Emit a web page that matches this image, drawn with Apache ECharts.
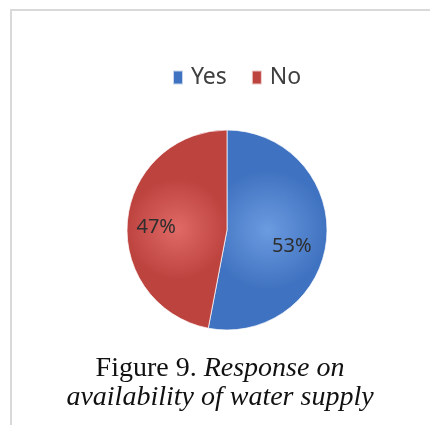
<!DOCTYPE html>
<html>
<head>
<meta charset="utf-8">
<script src="https://cdn.jsdelivr.net/npm/echarts@6/dist/echarts.min.js"></script>
<style>
  html, body {margin: 0; padding: 0; background: #fff;}
  #main {width: 430px; height: 425px;}
</style>
</head>
<body>
<div id="main"></div>
<script>
const categories = ['Yes', 'No'];
const values = [53, 47];
const colors = [
    ['#6b9be0', '#3f72c0'],
    ['#e06a66', '#bd433f']
];
const labelOffsets = [[12, 11], [-18, 2]];

const chart = echarts.init(document.getElementById('main'));

const data = categories.map((name, i) => ({
    name: name,
    value: values[i],
    itemStyle: {
        color: new echarts.graphic.RadialGradient(0.5, 0.5, 0.5, [
            {offset: 0, color: colors[i][0]},
            {offset: 1, color: colors[i][1]}
        ])
    },
    label: {offset: labelOffsets[i]}
}));

const serif = 'Liberation Serif';

chart.setOption({
    animation: false,
    backgroundColor: '#fff',
    legend: {
        top: 61,
        left: 167,
        itemWidth: 10,
        itemHeight: 14,
        itemGap: 24,
        icon: 'rect',
        textStyle: {fontFamily: 'Noto Sans', fontSize: 23, color: '#404040', padding: [0, 0, 0, 3]},
        data: categories.map((c, i) => ({name: c, itemStyle: {color: colors[i][1]}}))
    },
    graphic: [{
        type: 'rect',
        shape: {x: 11, y: 10, width: 440, height: 440},
        style: {fill: 'none', stroke: '#d9d9d9', lineWidth: 2},
        silent: true
    }, {
        type: 'text',
        x: 220,
        y: 354,
        style: {
            text: '{n|Figure 9. }{i|Response on}\n{i|availability of water supply}',
            align: 'center',
            verticalAlign: 'top',
            rich: {
                n: {fontFamily: serif, fontSize: 28, fill: '#111', lineHeight: 29},
                i: {fontFamily: serif, fontStyle: 'italic', fontSize: 28, fill: '#111', lineHeight: 29}
            }
        },
        silent: true
    }],
    series: [{
        type: 'pie',
        center: [227, 230],
        radius: 100,
        startAngle: 90,
        clockwise: true,
        data: data,
        itemStyle: {borderColor: 'rgba(255,255,255,0.7)', borderWidth: 1},
        label: {
            position: 'inside',
            formatter: '{d}%',
            fontFamily: 'Noto Sans',
            fontSize: 20,
            color: '#2e2e2e'
        },
        labelLine: {show: false},
        emphasis: {disabled: true}
    }]
});
</script>
</body>
</html>
